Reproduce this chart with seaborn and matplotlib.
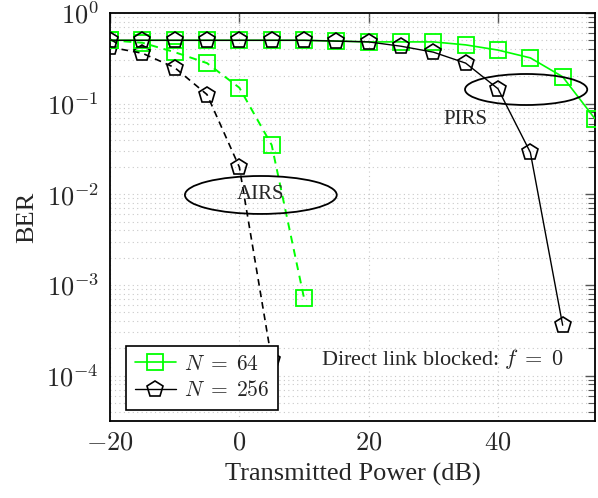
import matplotlib
matplotlib.use("Agg")
import matplotlib.pyplot as plt
import seaborn as sns
import numpy as np
import pandas as pd
from matplotlib.patches import Ellipse
from matplotlib.ticker import FuncFormatter, LogLocator, FixedLocator, NullFormatter

# ---- data ----
power_db = [-20, -15, -10, -5, 0, 5, 10, 15, 20, 25, 30, 35, 40, 45, 50, 55]

n64_airs_x = [-20, -15, -10, -5, 0, 5, 10]
n64_airs_ber = [0.50, 0.47, 0.37, 0.28, 0.15, 0.035, 7.2e-4]

n256_airs_x = [-20, -15, -10, -5, 0, 5]
n256_airs_ber = [0.42, 0.36, 0.25, 0.126, 0.020, 1.5e-4]

n64_pirs_x = power_db
n64_pirs_ber = [0.50, 0.50, 0.50, 0.50, 0.50, 0.50, 0.50, 0.49, 0.48, 0.48, 0.48,
                0.445, 0.39, 0.32, 0.198, 0.068]

n256_pirs_x = [-20, -15, -10, -5, 0, 5, 10, 15, 20, 25, 30, 35, 40, 45, 50]
n256_pirs_ber = [0.50, 0.50, 0.50, 0.50, 0.50, 0.50, 0.50, 0.49, 0.48, 0.43, 0.37,
                 0.28, 0.146, 0.029, 3.6e-4]

x_ticks = [-20, 0, 20, 40]
legend_labels = [r"$N\;=\;64$", r"$N\;=\;256$"]

sns.set_theme(style="white")
plt.rcParams["font.family"] = ["Liberation Serif", "DejaVu Serif"]
plt.rcParams["mathtext.fontset"] = "cm"

fig = plt.figure(figsize=(5.98, 4.98), dpi=100)
ax = fig.add_axes([110 / 598, 77 / 498, 485 / 598, 408 / 498])

green = "#00ff00"
black = "#000000"

sns.lineplot(x=n64_airs_x, y=n64_airs_ber, ax=ax, color=green, lw=1.4,
             linestyle=(0, (4, 3)), marker="s", markersize=11,
             markerfacecolor="none", markeredgecolor=green, markeredgewidth=1.3, zorder=3)
sns.lineplot(x=n256_airs_x, y=n256_airs_ber, ax=ax, color=black, lw=1.2,
             linestyle=(0, (4, 3)), marker="p", markersize=12,
             markerfacecolor="none", markeredgecolor=black, markeredgewidth=1.2, zorder=3)
sns.lineplot(x=n64_pirs_x, y=n64_pirs_ber, ax=ax, color=green, lw=1.2,
             marker="s", markersize=11, markerfacecolor="none",
             markeredgecolor=green, markeredgewidth=1.3, zorder=3, label=legend_labels[0])
sns.lineplot(x=n256_pirs_x, y=n256_pirs_ber, ax=ax, color=black, lw=1.0,
             marker="p", markersize=12, markerfacecolor="none",
             markeredgecolor=black, markeredgewidth=1.2, zorder=3, label=legend_labels[1])

ax.set_yscale("log")
ax.set_xlim(-20, 55)
ax.set_ylim(10 ** -4.5, 1)

ax.xaxis.set_major_locator(FixedLocator(x_ticks))
ax.xaxis.set_major_formatter(FuncFormatter(lambda v, p: f"${v:g}$"))
ax.yaxis.set_major_locator(LogLocator(base=10, numticks=10))
ax.yaxis.set_minor_locator(LogLocator(base=10, subs=np.arange(2, 10), numticks=20))
ax.yaxis.set_minor_formatter(NullFormatter())
ax.yaxis.set_major_formatter(FuncFormatter(lambda v, p: f"$10^{{{int(round(np.log10(v)))}}}$"))

ax.tick_params(axis="both", which="both", direction="in", top=True, right=True,
               labelsize=19, color="#555555")
ax.tick_params(axis="both", which="major", length=7, width=1.0, pad=8)
ax.tick_params(axis="y", which="minor", length=5, width=0.8)
ax.tick_params(axis="x", which="minor", length=0)

ax.grid(True, which="major", axis="both", color="#c8c8c8", linestyle=(0, (1, 3)), lw=0.8)
ax.grid(True, which="minor", axis="y", color="#c8c8c8", linestyle=(0, (1, 3)), lw=0.8)
for s in ax.spines.values():
    s.set_color("black")
    s.set_linewidth(1.3)

ax.set_xlabel("Transmitted Power (dB)", fontsize=19, labelpad=6)
ax.set_ylabel("BER", fontsize=19, labelpad=6)

# annotations
ax.add_patch(Ellipse((0.311, 0.554), 0.313, 0.093, transform=ax.transAxes,
                     fill=False, edgecolor="black", lw=1.3, zorder=4))
ax.text(0.311, 0.554, "AIRS", transform=ax.transAxes, ha="center", va="center",
        fontsize=15, zorder=5)
ax.add_patch(Ellipse((0.858, 0.8125), 0.252, 0.076, transform=ax.transAxes,
                     fill=False, edgecolor="black", lw=1.3, zorder=4))
ax.text(0.732, 0.738, "PIRS", transform=ax.transAxes, ha="center", va="center",
        fontsize=15, zorder=5)
ax.text(0.685, 0.152, r"Direct link blocked: $f\;=\;0$", transform=ax.transAxes,
        ha="center", va="center", fontsize=16, zorder=5)

leg = ax.legend(loc="lower left", bbox_to_anchor=(0.033, 0.027), fontsize=15.5,
                frameon=True, fancybox=False, framealpha=1, edgecolor="black",
                borderpad=0.4, handlelength=1.9, handletextpad=0.4, labelspacing=0.3,
                borderaxespad=0)
leg.get_frame().set_linewidth(1.2)
leg.set_zorder(6)

fig.savefig("out.png", dpi=100)
